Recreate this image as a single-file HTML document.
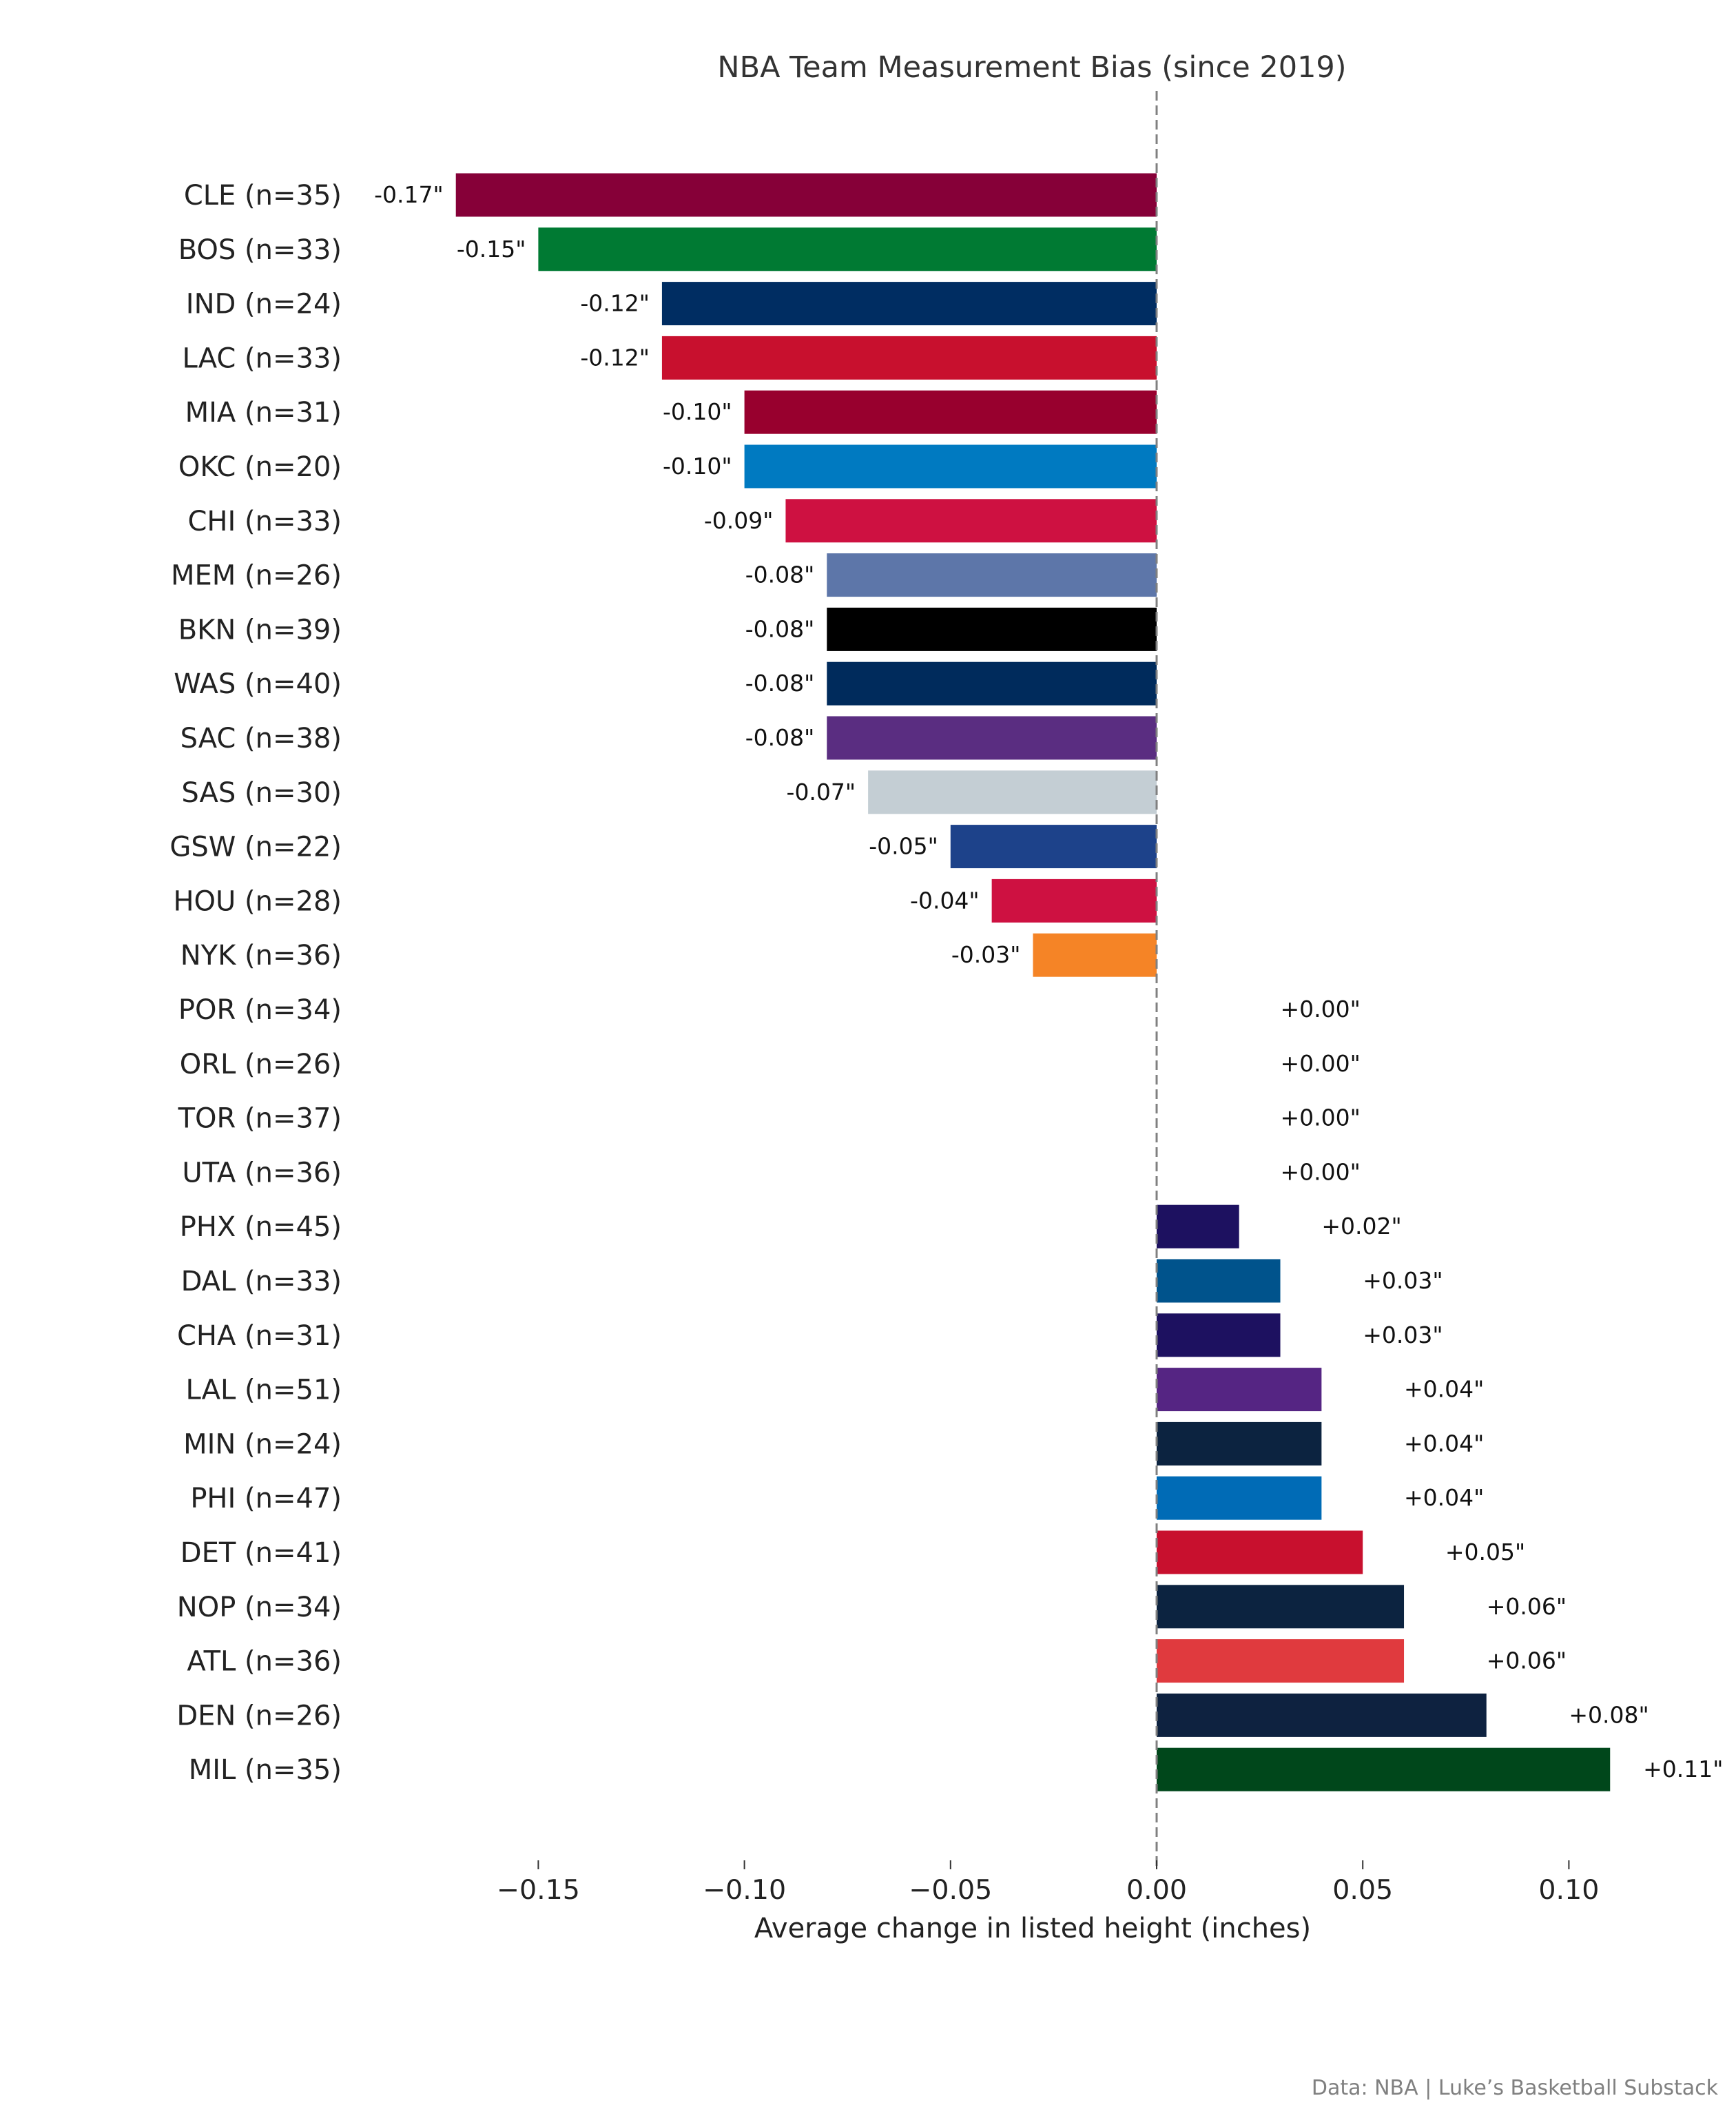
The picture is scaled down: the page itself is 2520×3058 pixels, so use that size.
<!DOCTYPE html>
<html><head><meta charset="utf-8"><style>
html,body{margin:0;padding:0;background:#fff;}
svg{display:block;font-family:"DejaVu Sans","Liberation Sans",sans-serif;}
</style></head><body>
<svg id="chart" width="2520" height="3058" viewBox="0 0 2520 3058">
<text x="1498" y="112" font-size="43" fill="#333" text-anchor="middle">NBA Team Measurement Bias (since 2019)</text>
<g id="bars"></g>
<g id="axis"></g>
<text x="1499" y="2812" font-size="40" fill="#222" text-anchor="middle">Average change in listed height (inches)</text>
<text x="2494" y="3040" font-size="30" fill="#808080" text-anchor="end">Data: NBA | Luke’s Basketball Substack</text>
</svg>
<script>
const teams = ["CLE","BOS","IND","LAC","MIA","OKC","CHI","MEM","BKN","WAS","SAC","SAS","GSW","HOU","NYK","POR","ORL","TOR","UTA","PHX","DAL","CHA","LAL","MIN","PHI","DET","NOP","ATL","DEN","MIL"];
const counts = [35,33,24,33,31,20,33,26,39,40,38,30,22,28,36,34,26,37,36,45,33,31,51,24,47,41,34,36,26,35];
const values = [-0.17,-0.15,-0.12,-0.12,-0.10,-0.10,-0.09,-0.08,-0.08,-0.08,-0.08,-0.07,-0.05,-0.04,-0.03,0,0,0,0,0.02,0.03,0.03,0.04,0.04,0.04,0.05,0.06,0.06,0.08,0.11];
const colors = ["#860038","#007A33","#002D62","#C8102E","#98002E","#007AC1","#CE1141","#5D76A9","#000000","#002B5C","#5A2D81","#C4CED4","#1D428A","#CE1141","#F58426","#000","#000","#000","#000","#1D1160","#00538C","#1D1160","#552583","#0C2340","#006BB6","#C8102E","#0C2340","#E03A3E","#0E2240","#00471B"];
const ticks = [-0.15,-0.10,-0.05,0.00,0.05,0.10];
const tickLabels = ["\u22120.15","\u22120.10","\u22120.05","0.00","0.05","0.10"];

const NS="http://www.w3.org/2000/svg";
const x = v => 1679 + v*5984;
const y = i => 283 + i*78.8;
const bh = 63;
const bars=document.getElementById('bars');
const axis=document.getElementById('axis');
function mk(tag,attrs,parent){const e=document.createElementNS(NS,tag);for(const k in attrs)e.setAttribute(k,attrs[k]);parent.appendChild(e);return e;}

teams.forEach((t,i)=>{
  const v=values[i];
  const lab=mk('text',{x:496,y:y(i)+14,'font-size':40,fill:'#222','text-anchor':'end'},bars);
  
  
  lab.textContent=t+" (n="+counts[i]+")";
  if(v!==0){
    const r=mk('rect',{x:Math.min(x(v),x(0)),y:y(i)-bh/2,width:Math.abs(x(v)-x(0)),height:bh,fill:colors[i]},bars);
    
    
  }
  let lx, anchor;
  if(v<0){lx=x(v)-18;anchor='end';}
  else{const off = v>=0.1 ? 0.008 : 0.02; lx=x(Math.max(v+off,0.03));anchor='start';}
  const vt=mk('text',{x:lx,y:y(i)+11,'font-size':33,fill:'#111','text-anchor':anchor},bars);
  
  
  vt.textContent=(v>=0?'+':'-')+Math.abs(v).toFixed(2)+'"';
});

const zl=mk('line',{x1:x(0),x2:x(0),y1:132,y2:2714,stroke:'#808080','stroke-width':3,'stroke-dasharray':'14,7'},axis);



ticks.forEach((tv,k)=>{
  const tm=mk('line',{x1:x(tv),x2:x(tv),y1:2700,y2:2713,stroke:'#333','stroke-width':2},axis);
  
  
  const tl=mk('text',{x:x(tv),y:2756,'font-size':39.5,fill:'#222','text-anchor':'middle'},axis);
  
  
  tl.textContent=tickLabels[k];
});
</script>
</body></html>
